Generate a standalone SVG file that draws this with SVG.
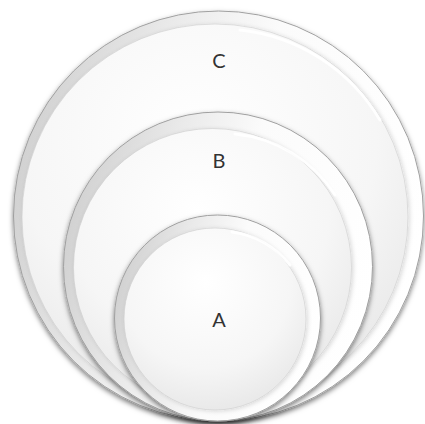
<svg xmlns="http://www.w3.org/2000/svg" width="425" height="424" viewBox="0 0 425 424">
  <defs>
    <linearGradient id="rim" x1="0" y1="0.3" x2="1" y2="0.55">
      <stop offset="0" stop-color="#cfcfcf"/>
      <stop offset="0.3" stop-color="#eaeaea"/>
      <stop offset="0.55" stop-color="#fbfbfb"/>
      <stop offset="1" stop-color="#ffffff"/>
    </linearGradient>
    <radialGradient id="disc" cx="0.45" cy="0.3" r="0.78">
      <stop offset="0" stop-color="#ffffff"/>
      <stop offset="0.6" stop-color="#f6f6f6"/>
      <stop offset="0.9" stop-color="#e9e9e9"/>
      <stop offset="1" stop-color="#dedede"/>
    </radialGradient>
    <filter id="shadow" x="-10%" y="-10%" width="120%" height="125%">
      <feDropShadow dx="0" dy="2.5" stdDeviation="2.5" flood-color="#000" flood-opacity="0.5"/>
    </filter>
    <filter id="soft" x="-10%" y="-10%" width="120%" height="120%">
      <feDropShadow dx="1.5" dy="1" stdDeviation="2" flood-color="#000" flood-opacity="0.15"/>
    </filter>
  </defs>
  <style>
    .outer { fill: url(#rim); stroke: #a0a0a0; stroke-width: 1; }
    .inner { fill: url(#disc); stroke: #cccccc; stroke-width: 0.6; }
    .hl { fill: none; stroke: #ffffff; stroke-width: 3; stroke-linecap: round; opacity: 0.9; }
    .lbl { font-family: Lato, "Open Sans", "Liberation Sans", sans-serif; font-size: 20px; fill: #333333; text-anchor: middle; }
  </style>

  <g id="nodeC" filter="url(#shadow)">
    <circle class="outer" cx="218.5" cy="216" r="205"/>
    <circle class="inner" cx="215" cy="217" r="193" filter="url(#soft)"/>
    <path class="hl" d="M 240 30 A 186 186 0 0 1 380 120"/>
  </g>
  <g id="nodeB" filter="url(#shadow)">
    <circle class="outer" cx="218" cy="266.5" r="154.5"/>
    <circle class="inner" cx="212.5" cy="267.5" r="139" filter="url(#soft)"/>
    <path class="hl" d="M 235 134 A 134 134 0 0 1 335 195"/>
  </g>
  <g id="nodeA" filter="url(#shadow)">
    <circle class="outer" cx="217.5" cy="318" r="103"/>
    <circle class="inner" cx="215" cy="319" r="91" filter="url(#soft)"/>
    <path class="hl" d="M 232 232 A 87 87 0 0 1 290 265"/>
  </g>

  <g id="labels">
    <text class="lbl" x="219" y="68">C</text>
    <text class="lbl" x="219" y="168">B</text>
    <text class="lbl" x="219" y="327">A</text>
  </g>
</svg>
